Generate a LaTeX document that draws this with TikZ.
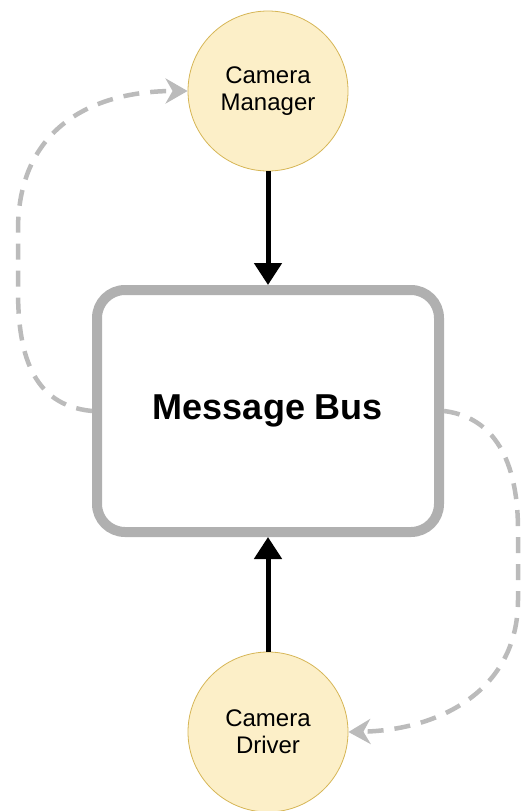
\documentclass[tikz,border=0pt]{standalone}
\usepackage{fontspec}
\setmainfont{Liberation Sans}
\usetikzlibrary{arrows.meta}
\definecolor{circfill}{HTML}{FCEFC8}
\definecolor{circline}{HTML}{D6B656}
\definecolor{busline}{HTML}{B0B0B0}
\definecolor{dashgray}{HTML}{BBBBBB}
\tikzset{
  compnode/.style={circle, fill=circfill, draw=circline, line width=0.8pt, minimum size=160pt, inner sep=0pt, align=center, font=\fontsize{24}{27}\selectfont},
  busnode/.style={rectangle, rounded corners=28pt, draw=busline, fill=white, line width=10pt, minimum width=342pt, minimum height=242pt, font=\fontsize{36}{40}\selectfont\bfseries},
  blackarrow/.style={line width=5pt, black, -{Triangle[length=22pt,width=27pt]}},
  dasharrow/.style={line width=4.5pt, dashgray, dash pattern=on 16pt off 11pt, -{Stealth[length=22pt,width=25pt,inset=7pt]}}
}
\begin{document}
\begin{tikzpicture}[x=1pt,y=-1pt]
\useasboundingbox (0,0) rectangle (521,811);
\node[compnode] (cm) at (268,91) {Camera\\Manager};
\node[busnode] (bus) at (268,411) {Message Bus};
\node[compnode] (cd) at (268,732) {Camera\\Driver};
\draw[blackarrow] (cm.south) -- (bus.north);
\draw[blackarrow] (cd.north) -- (bus.south);
\draw[dasharrow] (bus.west) .. controls (30,405) and (18,350) .. (18,290) -- (18,230) .. controls (18,130) and (90,91) .. (cm.west);
\draw[dasharrow] (bus.east) .. controls (500,418) and (518,470) .. (518,530) -- (518,600) .. controls (518,690) and (440,730) .. (cd.east);
\end{tikzpicture}
\end{document}
